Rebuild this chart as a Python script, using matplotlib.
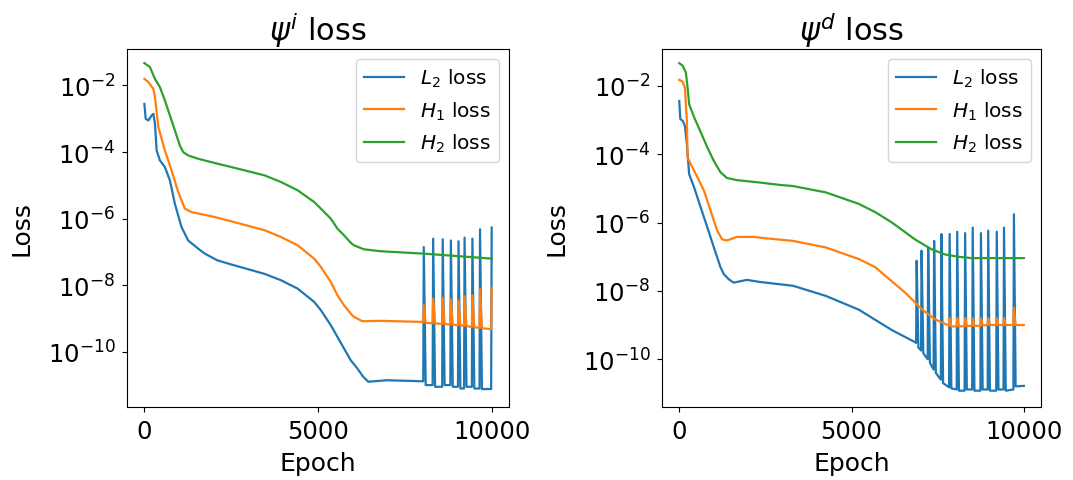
"""Loss curves for psi^i and psi^d networks (L2 / H1 / H2 norms)."""

import matplotlib

matplotlib.use("Agg")

import matplotlib.pyplot as plt

# (epoch, loss) pairs
left_l2 = [
    (0, 2.8e-3), (37, 1.0e-3), (115, 8.9e-4), (209, 1.26e-3), (258, 1.41e-3),
    (304, 7.1e-4), (352, 1.12e-4), (447, 5.6e-5), (590, 3.55e-5), (734, 1.41e-5),
    (877, 2.8e-6), (1069, 5.6e-7), (1261, 2.2e-7), (1547, 1.26e-7), (1738, 8.9e-8),
    (2100, 5.6e-8), (2502, 4.2e-8), (3456, 2.2e-8), (3934, 1.41e-8), (4413, 7.9e-9),
    (4888, 3.16e-9), (5082, 1.78e-9), (5367, 6.3e-10), (5559, 2.8e-10), (5748, 1.26e-10),
    (5940, 5.6e-11), (6132, 3.16e-11), (6300, 1.78e-11), (6450, 1.26e-11), (6990, 1.4e-11),
    (8030, 1.3e-11),
    (8045, 1.4e-7), (8100, 1.0e-11), (8300, 1.0e-11),
    (8315, 2.5e-7), (8370, 8.9e-12), (8575, 8.9e-12),
    (8590, 2.4e-7), (8645, 1.0e-11), (8810, 1.0e-11),
    (8825, 2.2e-7), (8880, 8.9e-12), (9030, 8.9e-12),
    (9045, 2.1e-7), (9100, 7.9e-12), (9205, 7.9e-12),
    (9220, 2.7e-7), (9275, 8.9e-12), (9430, 8.9e-12),
    (9445, 2.5e-7), (9500, 7.9e-12), (9650, 7.9e-12),
    (9665, 4.8e-7), (9720, 7.6e-12), (9985, 7.6e-12),
    (10000, 5.4e-7),
]
left_h1 = [
    (0, 1.58e-2), (115, 1.26e-2), (258, 7.9e-3), (304, 4.5e-3), (401, 5.6e-4),
    (590, 1.12e-4), (782, 2.8e-5), (974, 6.3e-6), (1163, 2.0e-6), (1355, 1.58e-6),
    (2023, 1.12e-6), (2502, 8.3e-7), (3456, 4.5e-7), (3934, 2.8e-7), (4413, 1.58e-7),
    (4888, 6.3e-8), (5082, 3.55e-8), (5367, 1.26e-8), (5559, 5.0e-9), (5748, 2.5e-9),
    (5940, 1.41e-9), (6034, 1.12e-9), (6275, 8.3e-10), (6800, 8.5e-10), (8030, 7.9e-10),
    (8045, 2.5e-9), (8100, 7.4e-10), (8300, 7.2e-10),
    (8315, 4.0e-9), (8370, 7.1e-10), (8575, 6.9e-10),
    (8590, 4.2e-9), (8645, 6.8e-10), (8810, 6.6e-10),
    (8825, 3.8e-9), (8880, 6.5e-10), (9030, 6.3e-10),
    (9045, 3.5e-9), (9100, 6.2e-10), (9205, 6.0e-10),
    (9220, 4.7e-9), (9275, 5.9e-10), (9430, 5.6e-10),
    (9445, 5.0e-9), (9500, 5.5e-10), (9650, 5.2e-10),
    (9665, 7.6e-9), (9720, 5.1e-10), (9985, 4.8e-10),
    (10000, 8.3e-9),
]
left_h2 = [
    (0, 4.7e-2), (160, 3.55e-2), (304, 1.58e-2), (447, 8.9e-3), (590, 3.55e-3),
    (734, 1.26e-3), (877, 4.5e-4), (1020, 1.58e-4), (1117, 1.0e-4), (1261, 7.9e-5),
    (1547, 6.3e-5), (2023, 4.7e-5), (2502, 3.55e-5), (3456, 2.0e-5), (3934, 1.26e-5),
    (4413, 7.1e-6), (4888, 3.16e-6), (5082, 2.0e-6), (5367, 1.0e-6), (5559, 5.0e-7),
    (5748, 3.16e-7), (5940, 1.9e-7), (6034, 1.58e-7), (6321, 1.2e-7), (6800, 1.05e-7),
    (8040, 8.9e-8), (10000, 6.3e-8),
]

right_l2 = [
    (0, 3.6e-3), (29, 1.07e-3), (98, 9.5e-4), (163, 6.8e-4), (221, 2.0e-4),
    (287, 2.6e-5), (431, 1.07e-5), (623, 2.75e-6), (815, 7.2e-7), (1005, 1.86e-7),
    (1197, 4.9e-8), (1292, 3.1e-8), (1435, 2.2e-8), (1579, 1.74e-8), (1962, 2.1e-8),
    (2345, 1.82e-8), (3301, 1.41e-8), (4259, 7.1e-9), (5216, 2.8e-9), (5694, 1.41e-9),
    (6173, 7.1e-10), (6842, 3.16e-10),
    (6875, 3.0e-10), (6890, 7.6e-8), (6940, 2.2e-10),
    (7018, 1.8e-10), (7033, 1.5e-7), (7083, 1.5e-10),
    (7210, 1.0e-10), (7225, 1.9e-7), (7275, 7.9e-11),
    (7382, 5.0e-11), (7397, 2.9e-7), (7447, 4.0e-11),
    (7593, 2.5e-11), (7608, 4.6e-7), (7658, 2.0e-11),
    (7832, 1.5e-11), (7847, 4.6e-7), (7897, 1.4e-11),
    (8052, 1.3e-11), (8067, 5.4e-7), (8117, 1.2e-11),
    (8282, 1.2e-11), (8297, 4.9e-7), (8347, 1.3e-11),
    (8502, 1.3e-11), (8517, 7.1e-7), (8567, 1.2e-11),
    (8741, 1.2e-11), (8756, 4.9e-7), (8806, 1.3e-11),
    (8952, 1.3e-11), (8967, 5.8e-7), (9017, 1.2e-11),
    (9200, 1.2e-11), (9215, 5.4e-7), (9265, 1.3e-11),
    (9411, 1.3e-11), (9426, 7.1e-7), (9476, 1.2e-11),
    (9698, 1.3e-11), (9713, 1.74e-6), (9763, 1.6e-11),
    (10000, 1.66e-11),
]
right_h1 = [
    (0, 1.5e-2), (98, 1.32e-2), (163, 8.9e-3), (221, 9.5e-4), (241, 7.9e-5),
    (335, 5.1e-5), (528, 2.1e-5), (718, 8.5e-6), (910, 2.2e-6), (1102, 5.8e-7),
    (1245, 3.2e-7), (1389, 3.0e-7), (1676, 3.8e-7), (2153, 3.8e-7), (2345, 3.6e-7),
    (3301, 2.9e-7), (4259, 1.86e-7), (5216, 8.5e-8), (5694, 4.9e-8), (5982, 2.75e-8),
    (6556, 8.9e-9), (7033, 2.95e-9), (7416, 1.48e-9), (7798, 1.0e-9),
    (7832, 9.5e-10), (7847, 1.6e-9), (7897, 9.1e-10),
    (8052, 9.1e-10), (8067, 1.6e-9), (8117, 9.1e-10),
    (8282, 9.3e-10), (8297, 1.6e-9), (8347, 9.3e-10),
    (8502, 9.5e-10), (8517, 1.6e-9), (8567, 9.5e-10),
    (8741, 9.5e-10), (8756, 1.6e-9), (8806, 9.8e-10),
    (8952, 1.0e-9), (8967, 1.6e-9), (9017, 1.0e-9),
    (9200, 1.0e-9), (9215, 1.6e-9), (9265, 1.0e-9),
    (9411, 1.0e-9), (9426, 1.6e-9), (9476, 1.0e-9),
    (9698, 1.0e-9), (9713, 3.2e-9), (9763, 1.0e-9),
    (10000, 1.0e-9),
]
right_h2 = [
    (0, 4.6e-2), (98, 3.9e-2), (192, 2.45e-2), (241, 8.9e-3), (287, 2.9e-3),
    (431, 1.2e-3), (623, 4.4e-4), (815, 1.58e-4), (1005, 6.3e-5), (1197, 2.95e-5),
    (1389, 2.0e-5), (1676, 1.74e-5), (2153, 1.55e-5), (2345, 1.48e-5), (2919, 1.26e-5),
    (3301, 1.17e-5), (4259, 7.6e-6), (5216, 3.5e-6), (5694, 2.0e-6), (6173, 1.0e-6),
    (6843, 3.2e-7), (7319, 1.66e-7), (7704, 1.17e-7), (8085, 1.0e-7), (8469, 9.1e-8),
    (10000, 9.1e-8),
]

series_labels = ["$L_2$ loss", "$H_1$ loss", "$H_2$ loss"]
titles = [r"$\psi^i$ loss", r"$\psi^d$ loss"]
x_ticks = [0, 5000, 10000]
y_ticks = [1e-2, 1e-4, 1e-6, 1e-8, 1e-10]
left_ylim = (1.25e-1, 2.2e-12)
right_ylim = (1.2e-1, 4.0e-12)


def plot_panel(ax, curves, title, ylim):
    for points, label in zip(curves, series_labels):
        epochs = [p[0] for p in points]
        losses = [p[1] for p in points]
        ax.semilogy(epochs, losses, label=label, linewidth=1.6)
    ax.set_ylim(ylim[1], ylim[0])
    ax.set_xticks(x_ticks)
    ax.set_yticks(y_ticks)
    ax.minorticks_off()
    ax.set_title(title, fontsize=22)
    ax.set_xlabel("Epoch", fontsize=18, labelpad=6)
    ax.set_ylabel("Loss", fontsize=18, labelpad=10)
    ax.tick_params(labelsize=17.5, pad=5)
    ax.legend(loc="upper right", fontsize=14.5)


def main():
    fig = plt.figure(figsize=(10.73, 4.81), dpi=100)
    ax_left = fig.add_axes([0.1184, 0.1518, 0.356, 0.7443])
    ax_right = fig.add_axes([0.617, 0.1518, 0.3532, 0.7443])
    plot_panel(ax_left, [left_l2, left_h1, left_h2], titles[0], left_ylim)
    plot_panel(ax_right, [right_l2, right_h1, right_h2], titles[1], right_ylim)
    fig.savefig("out.png", dpi=100)
    plt.close(fig)


if __name__ == "__main__":
    main()
